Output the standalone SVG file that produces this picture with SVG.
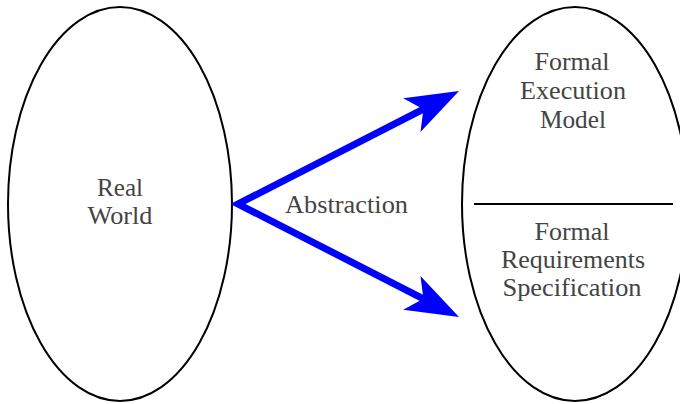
<svg xmlns="http://www.w3.org/2000/svg" width="680" height="404" viewBox="0 0 680 404">
  <style>
    .node { fill: #ffffff; stroke: #000000; stroke-width: 2; }
    .sep { stroke: #000000; stroke-width: 2; }
    .lbl { font-family: "Liberation Serif", "Times New Roman", serif; font-size: 25px; fill: #444444; text-anchor: middle; }
    .edge { fill: none; stroke: #0000ff; stroke-width: 7; stroke-linejoin: miter; stroke-linecap: butt; }
  </style>
  <defs>
    <marker id="stealth" markerUnits="userSpaceOnUse" orient="auto-start-reverse" refX="0" refY="0" markerWidth="60" markerHeight="60" overflow="visible">
      <path d="M40,0 L-13,-19 L0,0 L-13,19 Z" fill="#0000ff"/>
    </marker>
  </defs>
  <rect width="680" height="404" fill="#ffffff"/>
  <g id="real-world">
    <ellipse class="node" cx="120" cy="204" rx="112" ry="197"/>
    <text class="lbl" x="120" y="196" textLength="46" lengthAdjust="spacingAndGlyphs">Real</text>
    <text class="lbl" x="120" y="224" textLength="65" lengthAdjust="spacingAndGlyphs">World</text>
  </g>
  <g id="formal-model">
    <ellipse class="node" cx="575" cy="204" rx="113" ry="197"/>
    <line class="sep" x1="474" y1="204" x2="673" y2="204"/>
    <text class="lbl" x="572" y="70" textLength="75" lengthAdjust="spacingAndGlyphs">Formal</text>
    <text class="lbl" x="573" y="99" textLength="106" lengthAdjust="spacingAndGlyphs">Execution</text>
    <text class="lbl" x="573" y="128" textLength="66" lengthAdjust="spacingAndGlyphs">Model</text>
    <text class="lbl" x="572" y="240" textLength="75" lengthAdjust="spacingAndGlyphs">Formal</text>
    <text class="lbl" x="573" y="268" textLength="144" lengthAdjust="spacingAndGlyphs">Requirements</text>
    <text class="lbl" x="572" y="296" textLength="139" lengthAdjust="spacingAndGlyphs">Specification</text>
  </g>
  <g id="connectors">
    <path class="edge" d="M423.4,109.2 L238,204 L423.4,298.8" marker-start="url(#stealth)" marker-end="url(#stealth)"/>
    <text class="lbl" x="346.5" y="213" textLength="123" lengthAdjust="spacingAndGlyphs">Abstraction</text>
  </g>
</svg>
